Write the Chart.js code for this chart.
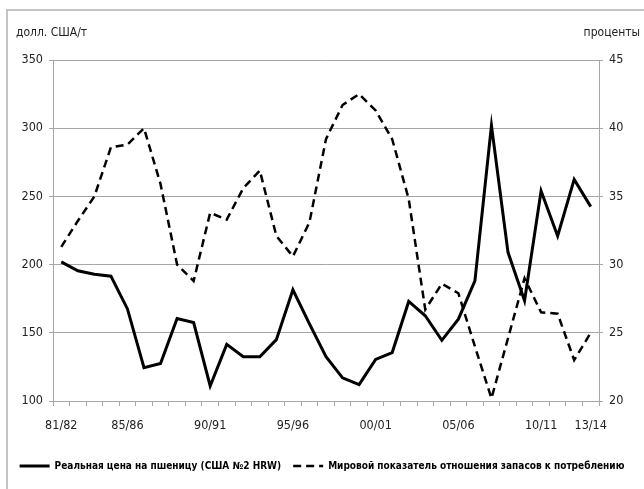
<!DOCTYPE html>
<html>
<head>
<meta charset="utf-8">
<script src="https://cdn.jsdelivr.net/npm/chart.js@4.4.1/dist/chart.umd.min.js"></script>
<style>
  html, body { margin:0; padding:0; background:#fff; }
  #wrap { position:relative; width:644px; height:489px; overflow:hidden; }
  #frame { position:absolute; left:6px; top:9px; width:700px; height:600px;
    border-left:2px solid #c4c4c4; border-top:2px solid #c4c4c4; }
  canvas { position:absolute; left:0; top:0; }
</style>
</head>
<body>
<div id="wrap">
  <div id="frame"></div>
  <canvas id="wheatChart" width="644" height="489"></canvas>
</div>
<script>
// seasons 81/82 ... 13/14
const seasons = [
  "81/82","82/83","83/84","84/85","85/86","86/87","87/88","88/89","89/90",
  "90/91","91/92","92/93","93/94","94/95","95/96","96/97","97/98","98/99",
  "99/00","00/01","01/02","02/03","03/04","04/05","05/06","06/07","07/08",
  "08/09","09/10","10/11","11/12","12/13","13/14"];

// only these are written under the axis
const shownSeasons = ["81/82","85/86","90/91","95/96","00/01","05/06","10/11","13/14"];

// real price, USD/t (left axis)
const priceValues = [
  202, 195.5, 193, 191.5, 167.5, 124.5, 127.5, 160.5, 157.5,
  111, 141.5, 132.5, 132.5, 145, 181.5, 156.5, 132.5, 117,
  112, 130.5, 135.5, 173, 162.5, 144.5, 160, 188, 302,
  209, 173.5, 254, 221, 262.5, 242.5];

// world stocks-to-use ratio, % (right axis)
const ratioValues = [
  31.3, 33.2, 35.0, 38.6, 38.8, 40.0, 35.9, 30.0, 28.8,
  33.8, 33.3, 35.6, 36.9, 32.1, 30.6, 33.1, 39.2, 41.7,
  42.5, 41.3, 39.2, 34.8, 26.7, 28.6, 27.9, 24.0, 20.2,
  24.6, 29.0, 26.5, 26.4, 23.0, 25.0];

const seriesNames = [
  "Реальная цена на пшеницу (США №2 HRW)",
  "Мировой показатель отношения запасов к потреблению"];

const leftUnit = "долл. США/т";
const rightUnit = "проценты";

const fontFamily = "'DejaVu Sans Condensed', 'Liberation Sans Narrow', sans-serif";
const gridColor = "#a6a6a6";
const textColor = "#222";

// axis unit captions above the plot
const unitTitles = {
  id: "unitTitles",
  afterDraw(chart){
    let ctx = chart.ctx;
    ctx.save();
    ctx.fillStyle = textColor;
    ctx.font = "12px " + fontFamily;
    ctx.textBaseline = "middle";
    ctx.textAlign = "left";
    ctx.fillText(leftUnit, 16, 33);
    ctx.textAlign = "right";
    ctx.fillText(rightUnit, 640, 33);
    ctx.restore();
  }
};

let chart = new Chart(document.getElementById("wheatChart"), {
  type: "line",
  data: {
    labels: seasons,
    datasets: [{
      label: seriesNames[0],
      data: priceValues,
      yAxisID: "y",
      borderColor: "#000",
      backgroundColor: "#000",
      borderWidth: 3,
      pointRadius: 0,
      pointStyle: "line",
      tension: 0
    },{
      label: seriesNames[1],
      data: ratioValues,
      yAxisID: "y1",
      borderColor: "#000",
      backgroundColor: "#000",
      borderWidth: 2.5,
      borderDash: [8, 5],
      pointRadius: 0,
      pointStyle: "line",
      tension: 0
    }]
  },
  options: {
    responsive: false,
    animation: false,
    layout: { padding: { top: 60, bottom: 8, left: 0, right: 0 } },
    plugins: {
      tooltip: { enabled: false },
      legend: {
        position: "bottom",
        labels: {
          usePointStyle: true,
          pointStyleWidth: 30,
          boxHeight: 3,
          padding: 12,
          color: "#000",
          font: { family: fontFamily, size: 10, weight: "bold" },
          // keep the dash of each line in the legend sample
          generateLabels: function(chart){
            let items = Chart.defaults.plugins.legend.labels.generateLabels(chart);
            items.forEach(function(item){
              let ds = chart.data.datasets[item.datasetIndex];
              item.lineDash = ds.borderDash || [];
              item.lineWidth = ds.borderWidth;
              item.strokeStyle = ds.borderColor;
            });
            return items;
          }
        }
      }
    },
    scales: {
      x: {
        offset: true,
        grid: {
          offset: true,
          drawOnChartArea: false,
          drawTicks: true,
          tickLength: 5,
          color: gridColor
        },
        border: { color: gridColor },
        ticks: {
          autoSkip: false,
          maxRotation: 0,
          padding: 12,
          color: textColor,
          font: { family: fontFamily, size: 12.5 },
          callback: function(value){
            let s = seasons[value];
            return shownSeasons.includes(s) ? s : "";
          }
        },
        afterFit(scale){ scale.height = 48; }
      },
      y: {
        position: "left",
        min: 100,
        max: 350,
        ticks: {
          stepSize: 50,
          padding: 6,
          color: textColor,
          font: { family: fontFamily, size: 12.5 }
        },
        grid: { color: gridColor, tickLength: 4 },
        border: { color: gridColor },
        afterFit(scale){ scale.width = 53; }
      },
      y1: {
        position: "right",
        min: 20,
        max: 45,
        ticks: {
          stepSize: 5,
          padding: 6,
          color: textColor,
          font: { family: fontFamily, size: 12.5 }
        },
        grid: { drawOnChartArea: false, color: gridColor, tickLength: 4 },
        border: { color: gridColor },
        afterFit(scale){ scale.width = 45; }
      }
    }
  },
  plugins: [unitTitles]
});
</script>
</body>
</html>
